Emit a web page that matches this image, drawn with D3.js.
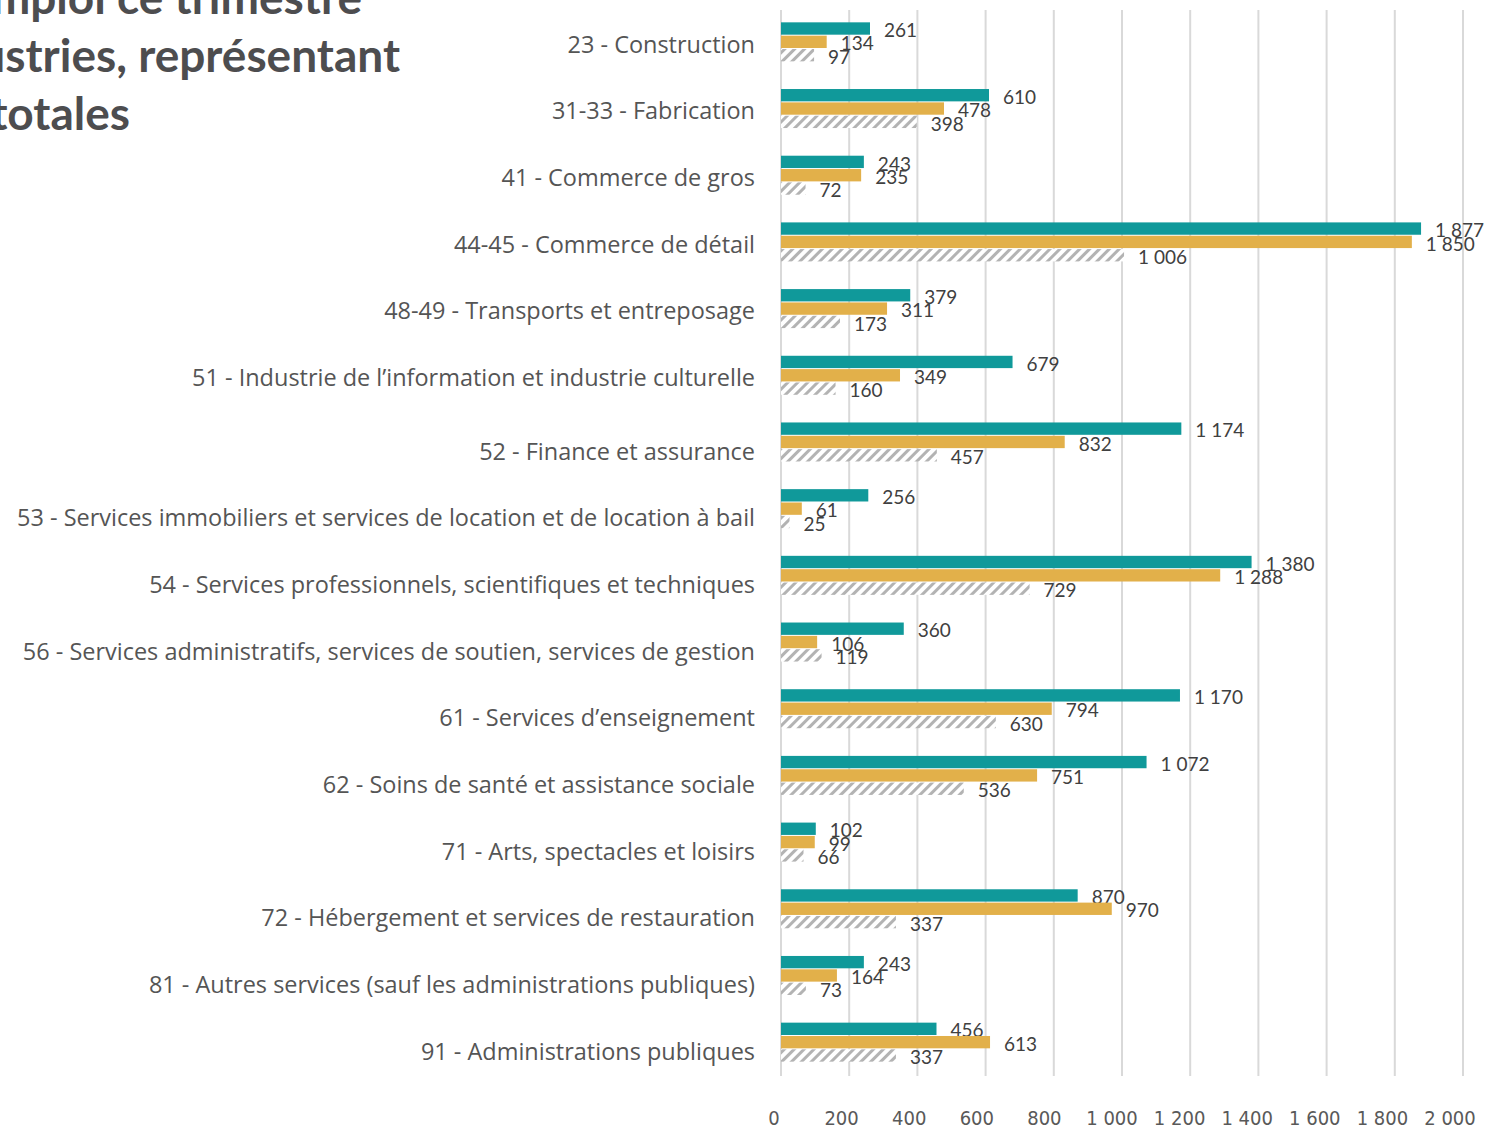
<!DOCTYPE html>
<html>
<head>
<meta charset="utf-8">
<script src="https://cdn.jsdelivr.net/npm/d3@7"></script>
<style>
  body { margin:0; background:#fff; }
  svg { display:block; }
</style>
</head>
<body>
<div id="chart"></div>
<script>
// data
var categories = [
  "23 - Construction",
  "31-33 - Fabrication",
  "41 - Commerce de gros",
  "44-45 - Commerce de détail",
  "48-49 - Transports et entreposage",
  "51 - Industrie de l\u2019information et industrie culturelle",
  "52 - Finance et assurance",
  "53 - Services immobiliers et services de location et de location à bail",
  "54 - Services professionnels, scientifiques et techniques",
  "56 - Services administratifs, services de soutien, services de gestion",
  "61 - Services d\u2019enseignement",
  "62 - Soins de santé et assistance sociale",
  "71 - Arts, spectacles et loisirs",
  "72 - Hébergement et services de restauration",
  "81 - Autres services (sauf les administrations publiques)",
  "91 - Administrations publiques"
];
var serie1 = [261, 610, 243, 1877, 379, 679, 1174, 256, 1380, 360, 1170, 1072, 102, 870, 243, 456];
var serie2 = [134, 478, 235, 1850, 311, 349, 832, 61, 1288, 106, 794, 751, 99, 970, 164, 613];
var serie3 = [97, 398, 72, 1006, 173, 160, 457, 25, 729, 119, 630, 536, 66, 337, 73, 337];
var xTicks = [0, 200, 400, 600, 800, 1000, 1200, 1400, 1600, 1800, 2000];
var titleLines = ["mploi ce trimestre", "ustries, représentant", "totales"];

var width = 1499, height = 1129;
var svg = d3.select("#chart").append("svg")
    .attr("width", width).attr("height", height);

var fr = d3.formatLocale({decimal: ",", thousands: "\u00a0", grouping: [3], currency: ["", " $"]});
var fmt = fr.format(",d");

// hatch pattern
var defs = svg.append("defs");
var pat = defs.append("pattern")
    .attr("id", "hatch")
    .attr("patternUnits", "userSpaceOnUse")
    .attr("width", 7).attr("height", 7)
    .attr("patternTransform", "rotate(45)");
pat.append("rect").attr("width", 7).attr("height", 7).attr("fill", "#fff");
pat.append("rect").attr("width", 3).attr("height", 7).attr("fill", "#b3b3b3");

var x = d3.scaleLinear().domain([0, 2000]).range([781, 1463]);
var y = d3.scaleBand().domain(d3.range(categories.length)).range([9, 1076]).paddingInner(0.4).paddingOuter(0.2);
var sub = d3.scaleBand().domain([0, 1, 2]).range([0, y.bandwidth()]);

// gridlines
svg.append("g").selectAll("line")
    .data(xTicks)
    .enter().append("line")
    .attr("x1", function(d){ return x(d); })
    .attr("x2", function(d){ return x(d); })
    .attr("y1", 10).attr("y2", 1076)
    .attr("stroke", "#d9d9d9")
    .attr("stroke-width", 2);

// x tick labels
svg.append("g").selectAll("text")
    .data(xTicks)
    .enter().append("text")
    .attr("x", function(d){ return x(d) - 7 - d * 0.003; })
    .attr("y", 1125)
    .attr("text-anchor", "middle")
    .attr("font-family", "'Liberation Sans Narrow', 'DejaVu Sans Condensed', 'Roboto', sans-serif")
    .attr("font-size", "20px")
    .attr("fill", "#595959")
    .text(function(d){ return fmt(d); });

// category labels (the reference drops them a bit lower from "52 -" on)
var labels = svg.append("g").selectAll("text")
    .data(categories)
    .enter().append("text")
    .attr("x", 755)
    .attr("y", function(d, i){ return y(i) + y.bandwidth() / 2 + 2 + (i >= 6 ? 7 : 0); })
    .attr("dy", "0.35em")
    .attr("text-anchor", "end")
    .attr("font-family", "'Open Sans', Lato, sans-serif")
    .attr("font-size", "24px")
    .attr("fill", "#555")
    .text(function(d){ return d; });

// fit the longest label to the width it has in the picture
var longest = labels.nodes()[7].getComputedTextLength();
labels.attr("font-size", (24 * 738 / longest).toFixed(2) + "px");

var series = [
  {values: serie1, fill: "#10999a"},
  {values: serie2, fill: "#e2b04a"},
  {values: serie3, fill: "url(#hatch)"}
];

series.forEach(function(s, k){
  var g = svg.append("g");
  g.selectAll("rect")
    .data(s.values)
    .enter().append("rect")
    .attr("x", x(0))
    .attr("y", function(d, i){ return y(i) + sub(k); })
    .attr("width", function(d){ return x(d) - x(0); })
    .attr("height", sub.bandwidth() - 1)
    .attr("fill", s.fill);
  g.selectAll("text")
    .data(s.values)
    .enter().append("text")
    .attr("x", function(d){ return x(d) + 14; })
    .attr("y", function(d, i){ return y(i) + sub(k) + sub.bandwidth() / 2 + 1.5; })
    .attr("dy", "0.35em")
    .attr("font-family", "Lato, 'Open Sans', sans-serif")
    .attr("font-size", "19px")
    .attr("fill", "#404040")
    .text(function(d){ return fmt(d); });
});

// title, cut at the left edge as in the picture
svg.append("g").selectAll("text")
    .data(titleLines)
    .enter().append("text")
    .attr("x", function(d, i){ return [362, 400, 130][i]; })
    .attr("y", function(d, i){ return 14 + i * 58; })
    .attr("text-anchor", "end")
    .attr("font-family", "Lato, 'Open Sans', sans-serif")
    .attr("font-weight", "bold")
    .attr("font-size", "46px")
    .attr("fill", "#4d4d4f")
    .text(function(d){ return d; });
</script>
</body>
</html>
